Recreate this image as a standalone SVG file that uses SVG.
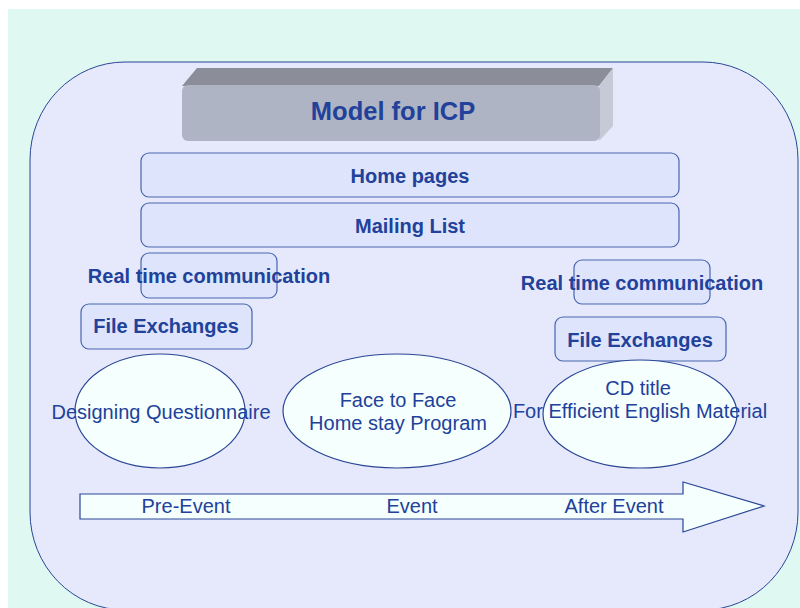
<svg xmlns="http://www.w3.org/2000/svg" width="800" height="608" viewBox="0 0 800 608">
<style>
text{font-family:"Liberation Sans",Arial,sans-serif;fill:#21419a;text-anchor:middle}
.b{font-weight:bold;font-size:20px}
.n{font-size:20px}
.box{fill:#dde4fb;stroke:#4866b0;stroke-width:1.2}
.ell{fill:#f5fffe;stroke:#2a4695;stroke-width:1.2}
</style>
<rect x="0" y="0" width="800" height="608" fill="#ffffff"/>
<rect x="8" y="9" width="792" height="599" fill="#e0f8f2"/>
<rect id="frame" x="30" y="62" width="768" height="548" rx="95" ry="98" fill="#e6e9fc" stroke="#2a4695" stroke-width="1"/>
<g id="title">
<polygon points="182,86 197,68 613,68 599,86" fill="#8b8d98"/>
<polygon points="599,86 613,68 613,126 599,141" fill="#c6c9d6"/>
<rect x="182" y="85" width="418" height="56" rx="6" fill="#aeb4c3"/>
<text x="393" y="120" style="font-weight:bold;font-size:25.5px">Model for ICP</text>
</g>
<g id="home">
<rect class="box" x="141" y="153" width="538" height="44" rx="8"/>
<text class="b" x="410" y="183">Home pages</text>
</g>
<g id="mailing">
<rect class="box" x="141" y="203" width="538" height="44" rx="8"/>
<text class="b" x="410" y="233">Mailing List</text>
</g>
<g id="rtc-left">
<rect class="box" x="141" y="253" width="136" height="45" rx="8"/>
<text class="b" x="209" y="283">Real time communication</text>
</g>
<g id="fe-left">
<rect class="box" x="81" y="304" width="171" height="45" rx="8"/>
<text class="b" x="166" y="333">File Exchanges</text>
</g>
<g id="rtc-right">
<rect class="box" x="574" y="260" width="136" height="44" rx="8"/>
<text class="b" x="642" y="290">Real time communication</text>
</g>
<g id="fe-right">
<rect class="box" x="555" y="317" width="171" height="44" rx="8"/>
<text class="b" x="640" y="347">File Exchanges</text>
</g>
<g id="designing">
<ellipse class="ell" cx="160" cy="411" rx="85" ry="57"/>
<text class="n" x="161" y="419">Designing Questionnaire</text>
</g>
<g id="face">
<ellipse class="ell" cx="397" cy="411" rx="114" ry="57"/>
<text class="n" x="398" y="407">Face to Face</text>
<text class="n" x="398" y="430">Home stay Program</text>
</g>
<g id="cd">
<ellipse class="ell" cx="640" cy="414" rx="97" ry="54"/>
<text class="n" x="638" y="395">CD title</text>
<text class="n" x="640" y="418">For Efficient English Material</text>
</g>
<g id="timeline">
<polygon class="ell" points="80,494 683,494 683,482 764,506 683,532 683,519 80,519"/>
<text class="n" x="186" y="513">Pre-Event</text>
<text class="n" x="412" y="513">Event</text>
<text class="n" x="614" y="513">After Event</text>
</g>
<g id="connectors"></g>
</svg>
